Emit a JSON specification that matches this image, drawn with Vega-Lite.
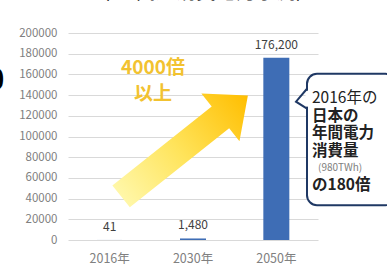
{
  "$schema": "https://vega.github.io/schema/vega-lite/v6.json",
  "autosize": "none",
  "width": 250,
  "height": 207,
  "padding": {"left": 68, "top": 33, "right": 69, "bottom": 25},
  "background": "white",
  "title": {"text": "（BC関連消費電力予測）", "fontSize": 20, "font": "Noto Sans CJK JP", "fontWeight": "normal", "color": "#000000", "offset": 24, "dx": 10},
  "config": {"view": {"stroke": null}, "font": "Noto Sans CJK JP",
    "axisY": {"tickCount": 10, "labelOverlap": false, "format": "d", "labelColor": "#808080", "labelFontSize": 11.5, "labelPadding": 11, "ticks": false, "domain": false, "gridColor": "#d9d9d9", "gridWidth": 1, "title": null}},
  "resolve": {"scale": {"x": "independent"}},
  "layer": [
    {
      "data": {"values": [
        {"year": "2016年", "value": 41, "label": "41"},
        {"year": "2030年", "value": 1480, "label": "1,480"},
        {"year": "2050年", "value": 176200, "label": "176,200"}
      ]},
      "encoding": {
        "x": {"field": "year", "type": "nominal", "sort": null, "scale": {"paddingInner": 0.3, "paddingOuter": 0.15},
          "axis": {"title": null, "labelAngle": 0, "labelColor": "#808080", "labelFontSize": 12.5, "labelPadding": 12, "ticks": false, "domain": false, "grid": false}},
        "y": {"field": "value", "type": "quantitative", "scale": {"domain": [0, 200000], "nice": false},
          "axis": {"title": null, "tickCount": 10, "labelOverlap": false}}
      },
      "layer": [
        {"mark": {"type": "bar", "width": 26, "color": "#3E6DB5"}},
        {"mark": {"type": "text", "baseline": "bottom", "dy": -6, "fontSize": 12, "color": "#404040"}, "encoding": {"text": {"field": "label"}}}
      ]
    },
    {
      "data": {"values": [{"u": 0.466, "v": 90860}]},
      "mark": {"type": "point", "filled": true, "opacity": 1, "strokeWidth": 0,
        "shape": "M -0.953 -0.165 L 0.54 -0.165 L 0.54 -0.36 L 0.953 0 L 0.54 0.36 L 0.54 0.165 L -0.953 0.165 Z",
        "size": 28900, "angle": -38.5,
        "fill": {"gradient": "linear", "x1": 0, "y1": 0, "x2": 1, "y2": 0,
          "stops": [{"offset": 0, "color": "#FFF7A8"}, {"offset": 0.45, "color": "#FFE45C"}, {"offset": 1, "color": "#FFBE00"}]}},
      "encoding": {
        "x": {"field": "u", "type": "quantitative", "scale": {"domain": [0, 1], "nice": false, "zero": false}, "axis": null},
        "y": {"field": "v", "type": "quantitative"}
      }
    },
    {
      "data": {"values": [
        {"u": 0.34, "v": 166000, "t": "4000倍"},
        {"u": 0.34, "v": 141000, "t": "以上"}
      ]},
      "mark": {"type": "text", "fontSize": 19, "fontWeight": "bold", "color": "#F2C230", "font": "Noto Sans CJK JP"},
      "encoding": {
        "x": {"field": "u", "type": "quantitative", "scale": {"domain": [0, 1], "nice": false, "zero": false}, "axis": null},
        "y": {"field": "v", "type": "quantitative"},
        "text": {"field": "t"}
      }
    },
    {
      "data": {"values": [{"u": 0.956, "u2": 1.31, "v": 160570, "v2": 33650}]},
      "mark": {"type": "rect", "fill": "white", "stroke": "#1F3864", "strokeWidth": 2, "cornerRadius": 10},
      "encoding": {
        "x": {"field": "u", "type": "quantitative", "scale": {"domain": [0, 1], "nice": false, "zero": false}, "axis": null},
        "x2": {"field": "u2"},
        "y": {"field": "v", "type": "quantitative"},
        "y2": {"field": "v2"}
      }
    },
    {
      "data": {"values": [{"u": 0.956, "v": 144230, "v2": 128840}]},
      "mark": {"type": "rule", "color": "white", "strokeWidth": 3},
      "encoding": {
        "x": {"field": "u", "type": "quantitative", "scale": {"domain": [0, 1], "nice": false, "zero": false}, "axis": null},
        "y": {"field": "v", "type": "quantitative"},
        "y2": {"field": "v2"}
      }
    },
    {
      "data": {"values": [
        {"i": 0, "u": 0.956, "v": 146150},
        {"i": 1, "u": 0.912, "v": 133650},
        {"i": 2, "u": 0.956, "v": 126920}
      ]},
      "mark": {"type": "line", "color": "#1F3864", "strokeWidth": 2, "strokeJoin": "miter"},
      "encoding": {
        "x": {"field": "u", "type": "quantitative", "scale": {"domain": [0, 1], "nice": false, "zero": false}, "axis": null},
        "y": {"field": "v", "type": "quantitative"},
        "order": {"field": "i"}
      }
    },
    {
      "data": {"values": [
        {"u": 0.976, "v": 137500, "t": "2016年の"}
      ]},
      "mark": {"type": "text", "align": "left", "font": "Noto Sans CJK JP", "fontSize": 15.5, "fontWeight": "normal", "color": "#222222"},
      "encoding": {
        "x": {"field": "u", "type": "quantitative", "scale": {"domain": [0, 1], "nice": false, "zero": false}, "axis": null},
        "y": {"field": "v", "type": "quantitative"},
        "text": {"field": "t"}
      }
    },
    {
      "data": {"values": [
        {"u": 0.976, "v": 120200, "t": "日本の"},
        {"u": 0.976, "v": 102900, "t": "年間電力"},
        {"u": 0.976, "v": 85600, "t": "消費量"},
        {"u": 0.976, "v": 52900, "t": "の180倍"}
      ]},
      "mark": {"type": "text", "align": "left", "font": "Noto Sans CJK JP", "fontSize": 15.5, "fontWeight": "bold", "color": "#222222"},
      "encoding": {
        "x": {"field": "u", "type": "quantitative", "scale": {"domain": [0, 1], "nice": false, "zero": false}, "axis": null},
        "y": {"field": "v", "type": "quantitative"},
        "text": {"field": "t"}
      }
    },
    {
      "data": {"values": [
        {"u": 1.0, "v": 69300, "t": "(980TWh)"}
      ]},
      "mark": {"type": "text", "align": "left", "font": "Noto Sans CJK JP", "fontSize": 10, "fontWeight": "normal", "color": "#808080"},
      "encoding": {
        "x": {"field": "u", "type": "quantitative", "scale": {"domain": [0, 1], "nice": false, "zero": false}, "axis": null},
        "y": {"field": "v", "type": "quantitative"},
        "text": {"field": "t"}
      }
    },
    {
      "data": {"values": [{"u": -0.29, "v": 153800, "t": "0"}]},
      "mark": {"type": "text", "fontSize": 30, "fontWeight": "bold", "color": "#000000", "font": "Noto Sans"},
      "encoding": {
        "x": {"field": "u", "type": "quantitative", "scale": {"domain": [0, 1], "nice": false, "zero": false}, "axis": null},
        "y": {"field": "v", "type": "quantitative"},
        "text": {"field": "t"}
      }
    }
  ]
}
